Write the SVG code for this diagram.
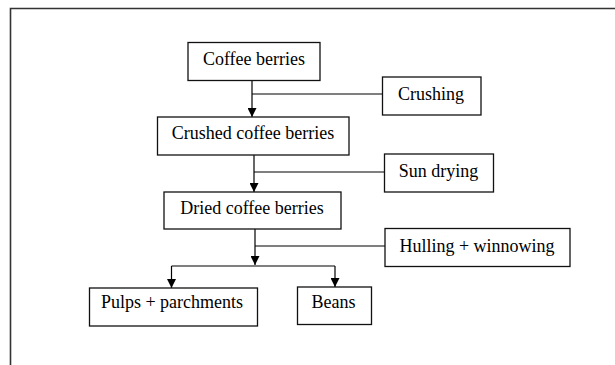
<svg xmlns="http://www.w3.org/2000/svg" width="615" height="365" viewBox="0 0 615 365">
<style>
.box{fill:#fff;stroke:#111;stroke-width:1.3}
.lbl{font-family:"Liberation Serif","Times New Roman",serif;font-size:18px;fill:#000;text-anchor:middle}
.con{fill:none;stroke:#000;stroke-width:1.2}
.frame{fill:none;stroke:#333;stroke-width:1.6}
</style>
<defs>
<marker id="arr" viewBox="0 0 10 10" refX="10" refY="5" markerWidth="9" markerHeight="9" markerUnits="userSpaceOnUse" orient="auto">
<path d="M0,0 L10,5 L0,10 z" fill="#000"/>
</marker>
</defs>
<rect width="615" height="365" fill="#fff"/>
<path class="frame" d="M10.5,365 V8.5 H615"/>
<g id="connectors">
<path class="con" d="M252,80.5 V117" marker-end="url(#arr)"/>
<path class="con" d="M252,94 H383"/>
<path class="con" d="M254,155 V192" marker-end="url(#arr)"/>
<path class="con" d="M254,172 H385"/>
<path class="con" d="M255,229 V265" marker-end="url(#arr)"/>
<path class="con" d="M255,246 H385"/>
<path class="con" d="M171.5,266 H335"/>
<path class="con" d="M171.5,266 V288" marker-end="url(#arr)"/>
<path class="con" d="M335,266 V287" marker-end="url(#arr)"/>
</g>
<g id="coffee-berries">
<rect class="box" x="188" y="42.5" width="132" height="38"/>
<text class="lbl" x="254" y="65">Coffee berries</text>
</g>
<g id="crushing">
<rect class="box" x="382.5" y="77" width="98.5" height="38"/>
<text class="lbl" x="431" y="100">Crushing</text>
</g>
<g id="crushed-coffee-berries">
<rect class="box" x="157.5" y="117" width="191.5" height="38"/>
<text class="lbl" x="253" y="139">Crushed coffee berries</text>
</g>
<g id="sun-drying">
<rect class="box" x="384.5" y="154" width="109" height="38"/>
<text class="lbl" x="438.5" y="176.5">Sun drying</text>
</g>
<g id="dried-coffee-berries">
<rect class="box" x="164" y="192" width="177" height="37"/>
<text class="lbl" x="252" y="213.5">Dried coffee berries</text>
</g>
<g id="hulling-winnowing">
<rect class="box" x="385" y="228.5" width="185" height="38"/>
<text class="lbl" x="477" y="251.5">Hulling + winnowing</text>
</g>
<g id="pulps-parchments">
<rect class="box" x="89.5" y="288" width="168" height="38"/>
<text class="lbl" x="172" y="308">Pulps + parchments</text>
</g>
<g id="beans">
<rect class="box" x="297.5" y="287" width="74" height="37.5"/>
<text class="lbl" x="333.5" y="307.5">Beans</text>
</g>
</svg>
